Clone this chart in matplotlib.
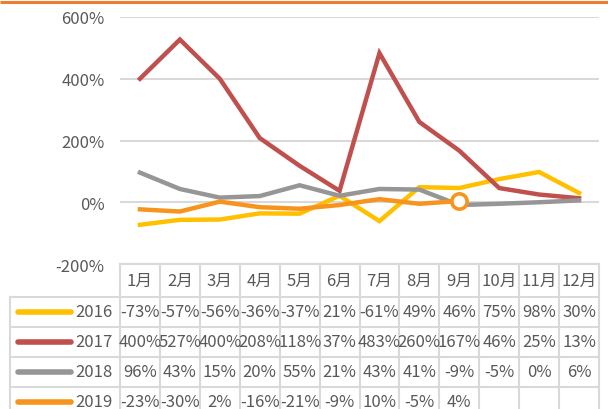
import matplotlib
matplotlib.use("Agg")
import matplotlib.pyplot as plt
import numpy as np

plt.rcParams['font.family'] = ['Noto Sans CJK SC', 'DejaVu Sans']

months = ['1月', '2月', '3月', '4月', '5月', '6月', '7月', '8月', '9月', '10月', '11月', '12月']
years = ['2016', '2017', '2018', '2019']
v2016 = [-73, -57, -56, -36, -37, 21, -61, 49, 46, 75, 98, 30]
v2017 = [400, 527, 400, 208, 118, 37, 483, 260, 167, 46, 25, 13]
v2018 = [96, 43, 15, 20, 55, 21, 43, 41, -9, -5, 0, 6]
v2019 = [-23, -30, 2, -16, -21, -9, 10, -5, 4]
yticks = [-200, 0, 200, 400, 600]

series = [v2016, v2017, v2018, v2019]
colors = ['#FFC000', '#C0504D', '#969696', '#F7941D']
txt = '#595959'
grid = '#D9D9D9'

W, H = 608, 410
fig = plt.figure(figsize=(W / 100, H / 100), dpi=100)

# main axes in pixel layout
L, R, T, B = 120, 599, 18, 265
ax = fig.add_axes([L / W, 1 - B / H, (R - L) / W, (B - T) / H])
ax.set_xlim(-0.5, 11.5)
ax.set_ylim(-200, 600)
ax.set_yticks(yticks)
ax.set_yticklabels([f'{t}%' for t in yticks], fontsize=12, color=txt)
ax.tick_params(axis='y', length=0, pad=11)
ax.set_xticks([])
for s in ax.spines.values():
    s.set_visible(False)
for t in yticks:
    ax.axhline(t, color=grid, lw=1.5, zorder=0)

x = np.arange(12)
for vals, c in zip(series, colors):
    ax.plot(x[:len(vals)], vals, color=c, lw=3.2, solid_joinstyle='miter', zorder=3)
# hollow marker at last point of 2019
ax.plot([x[len(v2019) - 1]], [v2019[-1]], marker='o', ms=11, mfc='white',
        mec=colors[3], mew=2.6, zorder=4, clip_on=False)

# overlay for table (pixel coords)
ov = fig.add_axes([0, 0, 1, 1])
ov.set_xlim(0, W)
ov.set_ylim(H, 0)
ov.axis('off')

# top orange border
ov.plot([0, W], [2.5, 2.5], color='#ED7D31', lw=2.2, solid_capstyle='butt')

col_w = (R - L) / 12
hdr_top, hdr_bot = 265, 298
row_h = 30
rows_y = [hdr_bot + i * row_h for i in range(5)]
tab_left = 10

# horizontal lines
ov.plot([L, R], [hdr_top, hdr_top], color=grid, lw=1.5)
for y in rows_y:
    ov.plot([tab_left, R], [y, y], color=grid, lw=1.5)
# vertical lines
for i in range(13):
    xv = L + i * col_w
    ov.plot([xv, xv], [hdr_top, H], color=grid, lw=1.5)
ov.plot([tab_left, tab_left], [hdr_bot, H], color=grid, lw=1.5)

# header
for i, m in enumerate(months):
    ov.text(L + (i + 0.5) * col_w, (hdr_top + hdr_bot) / 2, m, ha='center', va='center',
            fontsize=12, color=txt)

# rows
for r, (yr, vals, c) in enumerate(zip(years, series, colors)):
    yc = hdr_bot + (r + 0.5) * row_h
    ov.plot([18, 71], [yc, yc], color=c, lw=4, solid_capstyle='round')
    ov.text(94, yc, yr, ha='center', va='center', fontsize=12, color=txt)
    for i, v in enumerate(vals):
        ov.text(L + (i + 0.5) * col_w, yc, f'{v}%', ha='center', va='center',
                fontsize=12, color=txt)

fig.savefig('out.png', dpi=100, facecolor='white')
